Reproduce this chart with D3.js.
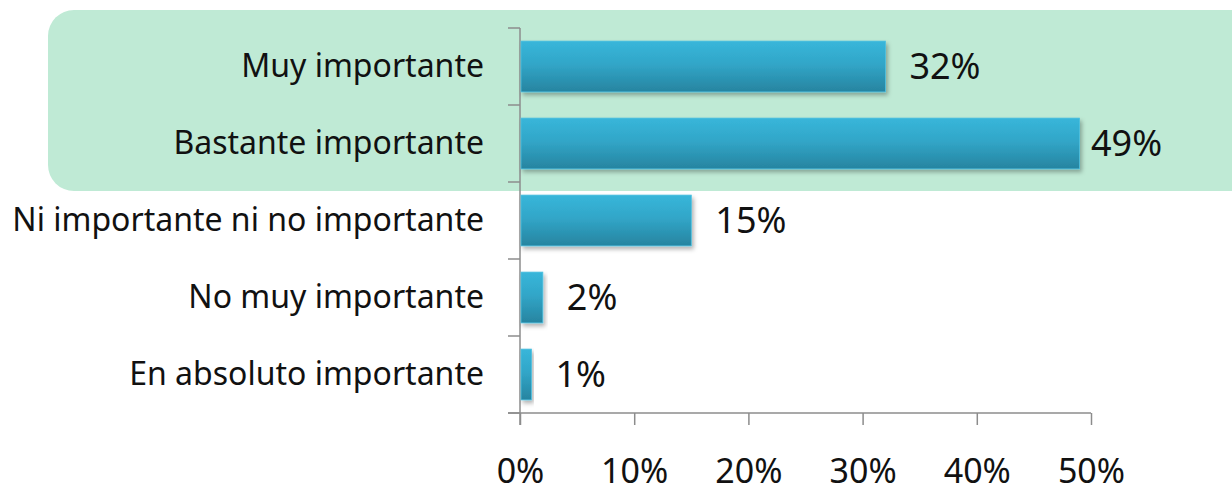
<!DOCTYPE html>
<html>
<head>
<meta charset="utf-8">
<script src="https://cdn.jsdelivr.net/npm/d3@7"></script>
<style>
  html, body { margin: 0; padding: 0; background: #fff; }
  svg { display: block; font-family: "Noto Sans", "Open Sans", sans-serif; }
</style>
</head>
<body>
<svg id="chart" width="1232" height="494"></svg>
<script>
// ---- data ----------------------------------------------------------------
var categories = [
  'Muy importante',
  'Bastante importante',
  'Ni importante ni no importante',
  'No muy importante',
  'En absoluto importante'
];
var values = [32, 49, 15, 2, 1];
var tickValues = [0, 10, 20, 30, 40, 50];

(function () {
  'use strict';

  var svg = d3.select('#chart');
  var plotL = 520, plotR = 1091, plotT = 28, plotB = 413;
  var axisColor = '#8c8c8c';

  var x = d3.scaleLinear().domain([0, 50]).range([plotL, plotR]);
  var y = d3.scaleBand().domain(categories).range([plotT, plotB])
    .paddingInner(0.34).paddingOuter(0.17);

  /* ---- gradient + drop shadow for the bars ---- */
  var defs = svg.append('defs');
  var grad = defs.append('linearGradient').attr('id', 'barGrad')
    .attr('x1', 0).attr('y1', 0).attr('x2', 0).attr('y2', 1);
  grad.append('stop').attr('offset', '0%').attr('stop-color', '#38b6da');
  grad.append('stop').attr('offset', '45%').attr('stop-color', '#31a6c8');
  grad.append('stop').attr('offset', '100%').attr('stop-color', '#2784a0');
  var shadow = defs.append('filter').attr('id', 'shadow')
    .attr('x', '-10%').attr('y', '-20%').attr('width', '130%').attr('height', '160%');
  shadow.append('feDropShadow').attr('dx', 2).attr('dy', 3).attr('stdDeviation', 2)
    .attr('flood-color', '#000').attr('flood-opacity', 0.3);

  /* ---- highlight box behind the top two categories ---- */
  svg.append('rect')
    .attr('x', 48).attr('y', 10).attr('width', 1230).attr('height', 181)
    .attr('rx', 26).attr('fill', '#bfead5');

  /* ---- value axis ---- */
  var xAxis = svg.append('g').attr('transform', 'translate(0,' + plotB + ')')
    .call(d3.axisBottom(x).tickValues(tickValues).tickSize(12).tickPadding(34)
      .tickFormat(function (d) { return d + '%'; }));
  xAxis.select('.domain').attr('stroke', axisColor).attr('stroke-width', 1.5)
    .attr('d', 'M' + (plotL - 12) + ',0H' + plotR);
  xAxis.selectAll('.tick line').attr('stroke', axisColor).attr('stroke-width', 1.5);
  xAxis.selectAll('.tick text').attr('fill', '#111').attr('font-size', 34)
    .attr('font-family', '"Noto Sans", sans-serif');

  /* ---- category axis ---- */
  var yAxis = svg.append('g').attr('transform', 'translate(' + plotL + ',0)')
    .call(d3.axisLeft(y).tickSize(0).tickPadding(36));
  yAxis.select('.domain').remove();
  yAxis.selectAll('.tick text').attr('fill', '#111').attr('font-size', 32)
    .attr('font-family', '"Noto Sans", sans-serif');

  // separator ticks between bands + the vertical axis line
  var seps = d3.range(categories.length + 1).map(function (i) { return plotT + i * y.step(); });
  svg.append('g').selectAll('line').data(seps).join('line')
    .attr('x1', plotL - 12).attr('x2', plotL)
    .attr('y1', function (d) { return d; }).attr('y2', function (d) { return d; })
    .attr('stroke', axisColor).attr('stroke-width', 1.5);
  svg.append('line').attr('x1', plotL).attr('x2', plotL)
    .attr('y1', plotT).attr('y2', plotB + 12)
    .attr('stroke', axisColor).attr('stroke-width', 1.5);

  /* ---- bars ---- */
  svg.append('g').selectAll('rect').data(values).join('rect')
    .attr('x', plotL + 1)
    .attr('y', function (d, i) { return y(categories[i]); })
    .attr('width', function (d) { return x(d) - plotL - 1; })
    .attr('height', y.bandwidth())
    .attr('fill', 'url(#barGrad)')
    .attr('stroke', '#4cc0e0').attr('stroke-width', 0.8)
    .attr('filter', 'url(#shadow)');

  /* ---- value labels ---- */
  svg.append('g').selectAll('text').data(values).join('text')
    .attr('x', function (d) { return Math.min(x(d) + 24, plotR); })
    .attr('y', function (d, i) { return y(categories[i]) + y.bandwidth() / 2; })
    .attr('dy', '0.36em')
    .attr('fill', '#111').attr('font-size', 36)
    .text(function (d) { return d + '%'; });
})();
</script>
</body>
</html>
